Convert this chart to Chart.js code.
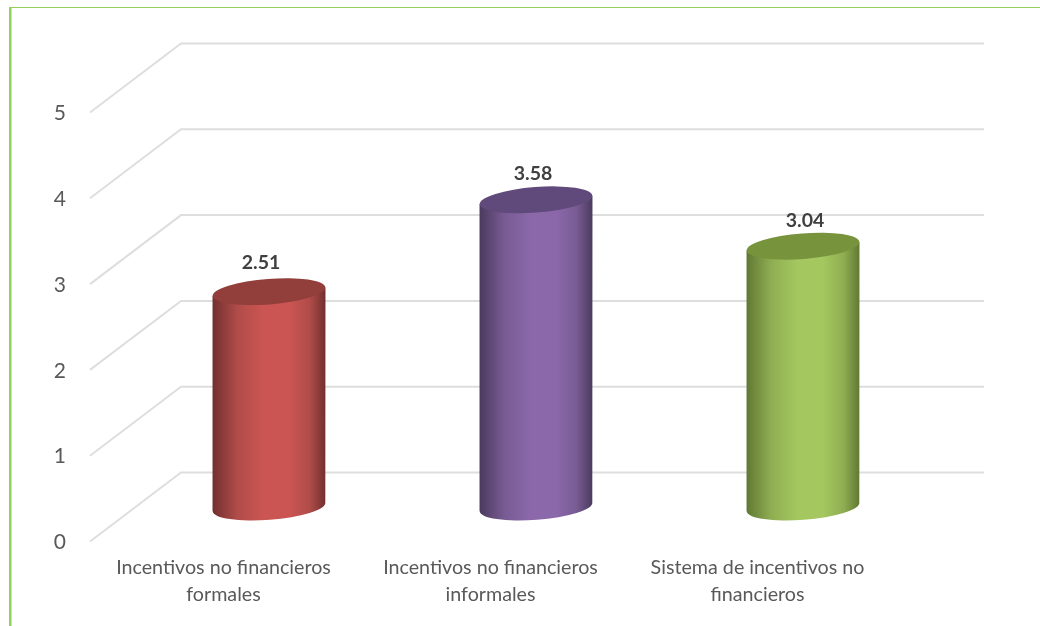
<!DOCTYPE html>
<html>
<head>
<meta charset="utf-8">
<title>Incentivos no financieros</title>
<script src="https://cdn.jsdelivr.net/npm/chart.js@4/dist/chart.umd.min.js"></script>
<style>
html,body{margin:0;padding:0;background:#fff;overflow:hidden}
canvas{display:block}
</style>
</head>
<body>
<canvas id="chart" width="1040" height="626"></canvas>
<script>
const categories=[['Incentivos no financieros','formales'],['Incentivos no financieros','informales'],['Sistema de incentivos no','financieros']];
const values=[2.51,3.58,3.04];
const valueLabels=['2.51','3.58','3.04'];
const yTicks=[0,1,2,3,4,5];

/* colores de cada cilindro */
const capColors=['#923f3c','#604a7b','#77933c'];
const lightColors=['#cb5552','#8b68aa','#a4c75f'];
const midColors=['#b04c49','#785b93','#8fae52'];
const darkColors=['#72302e','#4b3a5e','#617833'];

const DEPTH_X=91,DEPTH_Y=69,WALL_RIGHT=984;
const TILT=-4.4*Math.PI/180,RIM_B=12.8;
const labelNudgeX=[-8,-3,2];
const labelNudgeY=[-29,-26,-25];

/* marco verde y paredes con la rejilla */
const walls={
  id:'walls',
  beforeDatasetsDraw(c){
    const g=c.ctx,y=c.scales.y,x0=c.scales.x.left;
    g.save();
    g.fillStyle='#94d05a';
    g.fillRect(9,7,1031,1);
    g.fillRect(9,7,2.5,619);
    g.strokeStyle='#dedede';
    g.lineWidth=2;
    yTicks.forEach(t=>{
      const py=y.getPixelForValue(t);
      g.beginPath();
      g.moveTo(x0,py);
      g.lineTo(x0+DEPTH_X,py-DEPTH_Y);
      g.lineTo(WALL_RIGHT,py-DEPTH_Y);
      g.stroke();
    });
    g.restore();
  }
};

/* cilindros a media profundidad, con su valor encima */
const cylinders={
  id:'cylinders',
  afterDatasetsDraw(c){
    const g=c.ctx,meta=c.getDatasetMeta(0);
    meta.data.forEach((bar,i)=>{
      const cx=bar.x+DEPTH_X/2,top=bar.y-DEPTH_Y/2,base=bar.base-DEPTH_Y/2,a=bar.width/2;
      const dy=(a*a-RIM_B*RIM_B)*Math.sin(TILT)*Math.cos(TILT)/a;
      const grad=g.createLinearGradient(cx-a,0,cx+a,0);
      grad.addColorStop(0,darkColors[i]);
      grad.addColorStop(.22,midColors[i]);
      grad.addColorStop(.45,lightColors[i]);
      grad.addColorStop(.68,lightColors[i]);
      grad.addColorStop(.86,midColors[i]);
      grad.addColorStop(1,darkColors[i]);
      g.save();
      g.fillStyle=grad;
      g.beginPath();
      g.moveTo(cx-a,top-dy);
      g.lineTo(cx-a,base-dy);
      g.ellipse(cx,base,a,RIM_B,TILT,Math.PI,0,true);
      g.lineTo(cx+a,top+dy);
      g.closePath();
      g.fill();
      g.fillStyle=capColors[i];
      g.beginPath();
      g.ellipse(cx,top,a,RIM_B,TILT,0,Math.PI*2);
      g.fill();
      g.fillStyle='#404040';
      g.font='bold 19.5px Lato';
      g.textAlign='center';
      g.textBaseline='middle';
      g.fillText(valueLabels[i],cx+labelNudgeX[i],top+labelNudgeY[i]);
      g.restore();
    });
  }
};

new Chart(document.getElementById('chart'),{
  type:'bar',
  data:{labels:categories,datasets:[{data:values,backgroundColor:'transparent',borderWidth:0,barPercentage:.6,categoryPercentage:.705}]},
  options:{
    responsive:false,animation:false,
    layout:{padding:{top:112.5,left:0,right:149,bottom:0}},
    plugins:{legend:{display:false},tooltip:{enabled:false}},
    scales:{
      x:{
        grid:{display:false},border:{display:false},
        ticks:{color:'#595959',font:{family:'Lato',size:19.7,lineHeight:1.37},padding:5,maxRotation:0,autoSkip:false},
        afterFit(s){s.height=84.5;s.paddingLeft=0;s.paddingRight=0;}
      },
      y:{
        min:0,max:5,
        grid:{display:false,drawTicks:false},border:{display:false},
        ticks:{stepSize:1,color:'#595959',font:{family:'Lato',size:21},padding:24,labelOffset:1},
        afterFit(s){s.width=90;s.paddingTop=0;s.paddingBottom=0;}
      }
    }
  },
  plugins:[walls,cylinders]
});
</script>
</body>
</html>
